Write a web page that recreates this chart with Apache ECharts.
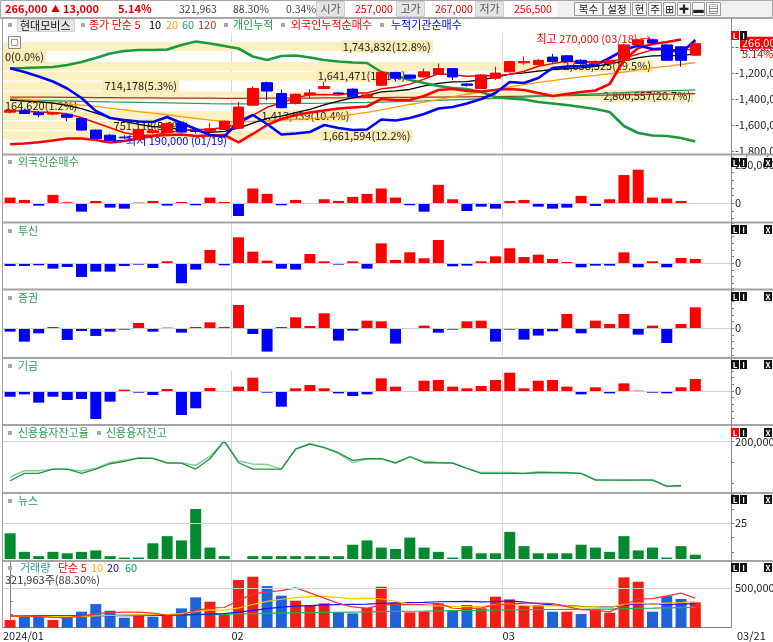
<!DOCTYPE html>
<html><head><meta charset="utf-8">
<script src="https://cdn.jsdelivr.net/npm/echarts@6.0.0/dist/echarts.min.js"></script>
<style>html,body{margin:0;padding:0;background:#fff;}#c{width:773px;height:642px;}</style>
</head><body><div id="c"></div>
<script>
// ---------------- DATA ----------------
const dates = ['01/10','01/11','01/12','01/15','01/16','01/17','01/18','01/19','01/22','01/23','01/24','01/25','01/26','01/29','01/30','01/31',
 '02/01','02/02','02/05','02/06','02/07','02/08','02/13','02/14','02/15','02/16','02/19','02/20','02/21','02/22','02/23','02/26','02/27','02/28','02/29',
 '03/04','03/05','03/06','03/07','03/08','03/11','03/12','03/13','03/14','03/15','03/18','03/19','03/20','03/21'];
const monthTicks = ['2024/01','02','03'];

const openP  = [212500,214000,212000,211000,210500,207500,198500,194500,193000,191000,196500,196500,204000,198000,197500,199000,200000,218000,235500,227000,219500,226000,231000,227500,230500,224500,233500,243500,241500,240000,242000,246500,234500,231000,239000,244000,251000,249500,255500,256500,253000,250500,250500,253000,265000,269000,265000,263500,257000];
const highP  = [215000,214500,213500,212500,211500,208000,199000,195500,194500,200000,199500,204500,205000,199000,204000,206000,220500,232500,236500,230000,227000,230500,236000,228000,231000,227000,244500,244000,242000,246500,250500,247000,235000,242000,248000,252500,256000,254000,258000,257000,254000,253000,253500,266000,269500,270000,265500,264000,267000];
const lowP   = [211500,211000,208500,210000,205500,198000,191500,190000,191500,190500,195500,196000,196500,196000,196500,198500,199500,217500,222000,215500,218500,223000,230500,226500,224000,224000,233000,236500,238500,239500,241500,237500,232500,230500,237500,243500,249500,249000,250500,251500,249500,250000,250000,252500,264500,265500,252500,248000,256500];
const closeP = [214000,211500,210500,212000,208500,198500,192000,190500,192500,199000,198000,203500,197000,197500,199500,205500,216500,231000,229000,216000,226500,227500,232500,227000,224500,226000,243500,239000,239000,244000,246500,240000,233500,241500,243000,252000,252000,253000,252000,252000,250500,252000,253000,265000,269000,266500,253000,253000,266000];

const ma5   = [213800,213200,212700,212300,211300,208200,204300,200300,196400,194500,194400,196700,198000,199000,199100,200600,203200,210000,216300,219600,223800,226000,226300,225900,227600,227500,230700,232000,234400,238300,242400,241700,240600,241100,240900,242000,244400,248300,250400,252200,251900,251900,251900,254500,257900,261100,261300,261300,261500];
const ma10  = [222000,221200,220500,219500,217800,215200,211800,208200,205300,202900,201300,200500,199200,197700,196800,197500,200000,204000,207700,209400,212200,214600,218200,221100,223600,225700,228400,229200,230200,233000,235000,236200,236300,237800,239600,242200,243100,244500,245800,246600,247000,248200,250100,252500,255100,256500,256600,256600,258000];
const ma20  = [223300,222300,221200,220000,219000,218000,217000,215600,214300,213000,211800,210500,209000,207600,206300,205300,204800,205300,205800,206300,206800,207400,208200,209300,210700,212300,214300,216500,218500,220300,222300,224500,226500,228300,230200,232200,234000,235700,237200,238700,240100,241300,242500,243800,245500,247000,248300,249700,251200];
const ma60  = [222000,221800,221600,221400,221200,221000,220800,220500,220300,220100,219900,219700,219500,219300,219100,219000,218900,219000,219100,219200,219300,219400,219500,219700,219900,220100,220400,220700,221000,221300,221700,222100,222500,222900,223300,223800,224300,224800,225300,225800,226300,226800,227300,227800,228300,228700,229100,229500,229900];
const ma120 = [224300,224300,224200,224200,224100,224000,223900,223800,223700,223700,223600,223500,223500,223400,223400,223300,223300,223300,223400,223400,223500,223500,223600,223600,223700,223800,223900,224000,224100,224200,224300,224400,224500,224600,224700,224900,225000,225200,225300,225500,225600,225800,225900,226100,226300,226500,226600,226700,226900];

const cumIndiv   = [-1163900,-1161600,-1157700,-1153900,-1138500,-1115400,-1084600,-1050000,-1030800,-1023100,-1023100,-1019300,-984600,-957700,-973100,-992300,-1011600,-1073100,-1100000,-1069300,-1065400,-1080800,-1100000,-1111600,-1119300,-1123100,-1192300,-1219300,-1253900,-1276900,-1300000,-1315400,-1323100,-1346200,-1384600,-1396200,-1403900,-1423100,-1434600,-1446200,-1461600,-1476900,-1500000,-1607700,-1661500,-1680800,-1684600,-1700000,-1726900];
const cumForeign = [-1748500,-1742300,-1733100,-1719200,-1703900,-1703900,-1715400,-1734600,-1723100,-1703900,-1684600,-1676900,-1673100,-1684600,-1680800,-1676900,-1733100,-1669200,-1600000,-1553900,-1523100,-1503900,-1488500,-1473100,-1465400,-1457700,-1400000,-1407700,-1407700,-1376900,-1330800,-1323100,-1338500,-1342300,-1330800,-1323100,-1330800,-1353900,-1376900,-1361600,-1346200,-1334600,-1284600,-1100000,-1007700,-977000,-961600,-942300,null];
const cumInst    = [-1163900,-1192300,-1226900,-1265400,-1319300,-1392300,-1492300,-1546200,-1561500,-1573100,-1576900,-1538500,-1584600,-1630800,-1676900,-1688500,-1576900,-1523100,-1592300,-1673100,-1665400,-1653900,-1600000,-1623100,-1638500,-1634600,-1557700,-1565400,-1546200,-1515400,-1473100,-1461600,-1434600,-1400000,-1353900,-1269300,-1276900,-1238500,-1161600,-1150000,-1146200,-1138500,-1084600,-1023100,-988500,-1015400,-1011600,-1048500,-946200];

const profileVol = [1743832,0,2638525,1641471,714178,2800557,164620,1413939,751118,1661594];
const profilePct = [12.8,0.0,19.5,12.1,5.3,20.7,1.2,10.4,5.6,12.2];

const foreignNet = [37000,21800,-15200,54400,6500,-54400,15200,-28300,-34800,4400,15200,-15200,8700,-13000,37000,8700,-82700,95700,60900,-13000,21800,2200,26100,15200,41300,60900,95700,37000,-13000,-54400,119700,26100,-50000,-21800,-34800,15200,21800,-21800,-34800,-28300,47900,-17400,26100,182800,217600,37000,30500,15200,null];
const trustNet = [-4000,-4000,-3000,-8000,-5500,-20400,-12400,-12400,-4000,-2000,-7000,3000,-29800,-9400,19900,-3000,38800,17400,4000,-8000,-9400,13900,3000,-2000,3000,-8000,29800,5000,16400,7500,34800,-4500,-3500,3000,10400,22400,9400,12900,6500,2000,-6000,-3500,-3500,16400,-6000,3000,-6000,8000,6500];
const secNet = [-5000,-19900,-7500,2000,-17400,-4000,-11400,-5000,-2000,8000,-5000,1000,-6500,2000,8900,2000,34800,-8500,-34800,2000,16400,3500,22400,-18400,-3500,11400,10400,-22900,-1000,4000,-6500,-2000,10400,11400,-19900,-2000,-16900,-10900,-4500,21400,-7500,11400,6500,21400,-9400,4000,-21900,6500,31300];
const fundNet = [-8500,-5000,-17400,-8500,-13400,-11900,-41700,-15900,2000,-2500,-6000,3000,-35800,-25800,4500,-1000,6500,19900,-2500,-23400,4000,8900,4000,-3500,-7500,-5000,18900,6500,-1000,15400,16400,6500,4000,7500,16400,27300,4000,15400,16400,6500,-5000,5500,-3500,11400,500,-2500,-3500,5500,17900];

const creditBal  = [190570,192340,192340,193390,193390,192340,193390,194680,195240,196050,195970,194840,194840,193390,195890,200160,194920,193390,193390,193390,198230,199440,198550,197340,195490,195890,195890,194840,196370,194920,194920,194840,193550,192340,192340,192340,192340,192500,192500,192500,192340,190730,190730,190730,190730,190730,189280,189360,null];
const creditRate = [0.2045,0.2062,0.2062,0.2066,0.2066,0.2061,0.2068,0.2083,0.2089,0.2095,0.2094,0.2083,0.2082,0.2076,0.2099,0.2138,0.2087,0.2079,0.2078,0.2066,0.2118,0.2132,0.2122,0.2107,0.2083,0.2093,0.2093,0.2083,0.2098,0.2086,0.2083,0.2082,0.2068,0.2057,0.2057,0.2057,0.2055,0.2059,0.2058,0.2057,0.2055,0.2039,0.2038,0.2038,0.2038,0.2039,0.2021,0.2023,null];

const news = [18,5,2,5,4,5,6,2,1,1,11,16,13,35,8,2,0,2,2,2,2,2,2,2,10,13,8,7,15,8,5,1,9,4,4,19,9,4,4,4,10,8,5,16,6,8,1,9,3];

const volume = [97300,148000,148000,97300,139600,203000,300300,215700,126900,148000,139600,160700,245300,384900,330000,160700,604900,647200,528800,406100,342600,287600,308800,194600,181900,253800,520300,317300,194600,203000,308800,211500,287600,245300,393400,359600,279200,287600,203000,203000,173400,232700,190400,638700,583700,203000,401900,364624,321963];
const volDir = [1,-1,-1,1,-1,-1,-1,-1,-1,1,-1,1,-1,-1,1,1,1,1,-1,-1,1,1,1,-1,-1,1,1,-1,1,1,1,-1,-1,1,1,1,1,1,-1,1,-1,1,1,1,1,-1,-1,-1,1];
const volMa5  = [148000,150000,140000,130000,126000,147200,177600,191200,197100,198800,186100,158200,164100,215700,252100,256300,345200,425500,454300,469500,505900,442500,374800,307900,263100,245300,291900,293600,293600,297800,308800,247000,241100,251200,289300,299500,313000,313000,304600,266500,229200,219900,200500,287600,363800,369700,403500,438400,375000];
const volMa10 = [145000,143000,142000,140000,140000,142000,150000,155000,158000,162400,166600,167900,177600,206400,225400,221200,251700,294800,335000,360800,381100,393800,400200,381100,366300,375600,367200,334200,300800,280500,277100,269500,267300,272400,293600,304100,280000,277100,277900,277900,264400,266500,256800,296100,315100,299500,311700,319400,331300];
const volMa20 = [145000,145000,146000,146000,147000,148000,150000,152000,153000,154000,155000,157000,160000,165000,172000,178000,198000,220000,242000,261600,273900,280900,288900,293800,295900,298400,309400,314500,317900,320600,329100,331600,333800,326800,329900,339900,323600,305600,289300,279200,270700,268000,262100,284300,304300,301800,295900,298300,304600];
const volMa60 = [150000,151000,152000,153000,154000,155000,156000,158000,159000,160000,161000,162000,164000,166000,168000,170000,174000,178000,182000,185000,188000,191000,194000,196000,198000,200000,204000,207000,209000,211000,214000,216000,218000,220000,223000,226000,228000,230000,231000,232000,233000,235000,236000,241000,246000,248000,251000,254000,257000];

const turnoverPct = 0.34;

// ---------------- BUILD ----------------
const FONT = "'Noto Sans CJK KR','Noto Sans',sans-serif";
const fmt = v => Math.round(v).toLocaleString('en-US');
const last = dates.length - 1;
const cats = dates.concat(['', '']);
const monthStarts = dates.map((d, i) => (i === 0 || d.slice(0, 2) !== dates[i - 1].slice(0, 2)) ? i : -1).filter(i => i >= 0);
const splitFn = i => i > 0 && monthStarts.indexOf(i) >= 0;

const UP = '#FF0000', DN = '#0000FF';
const L = 3, R = 42;
const grids = [
  {top: 33, height: 118},      // 0 main
  {top: 41.6, height: 98.8},   // 1 profile
  {top: 157, height: 61.7},    // 2 foreign
  {top: 223.1, height: 67},    // 3 trust
  {top: 288.1, height: 67},    // 4 securities
  {top: 370.9, height: 53.6},  // 5 fund
  {top: 426, height: 66},      // 6 credit
  {top: 494, height: 65},      // 7 news
  {top: 562, height: 65.7}     // 8 volume
].map(g => Object.assign({left: L, right: R, containLabel: false, outerBoundsMode: 'none', show: false}, g));

const catAxis = g => ({type: 'category', gridIndex: g, data: cats, boundaryGap: true,
  axisLine: {show: false}, axisTick: {show: false}, axisLabel: {show: false},
  splitLine: {show: true, interval: splitFn, lineStyle: {color: '#D6D6D6', width: 1}}});

const xAxes = [
  catAxis(0),
  {type: 'value', gridIndex: 1, min: 0, max: 2954800, show: false},
  catAxis(2), catAxis(3), catAxis(4), catAxis(5), catAxis(6), catAxis(7), catAxis(8),
  {type: 'value', gridIndex: 8, position: 'bottom', min: -0.5, max: cats.length - 0.5,
    axisLine: {show: true, lineStyle: {color: '#7F7F7F'}}, axisTick: {show: false}, splitLine: {show: false},
    axisLabel: {show: true, customValues: monthStarts.map(i => i - 0.5).concat([cats.length - 0.5]),
      align: 'left', margin: 3, color: '#222', fontSize: 11, fontFamily: FONT,
      formatter: v => { const k = monthStarts.indexOf(v + 0.5); return k >= 0 ? monthTicks[k] : '{e|' + dates[last] + '}'; },
      rich: {e: {padding: [0, 0, 0, 6], fontSize: 11, color: '#222', fontFamily: FONT}}}}
];

function ya(g, min, max, ex) {
  ex = ex || {};
  const a = {type: 'value', gridIndex: g, position: 'right', min: min, max: max, scale: false,
    axisLine: {show: true, lineStyle: {color: '#808080'}},
    axisTick: {show: true, length: 3, lineStyle: {color: '#808080'}},
    splitLine: {show: false},
    axisLabel: {color: '#222', fontSize: 11, margin: 4, fontFamily: FONT, formatter: v => fmt(v)}};
  if (ex.interval) a.interval = ex.interval;
  if (ex.ticks) a.axisTick.customValues = ex.ticks;
  if (ex.labels) a.axisLabel.customValues = ex.labels;
  if (ex.hideMax) a.axisLabel.showMaxLabel = false;
  return a;
}
const volStep = 500000 / 3;
const yAxes = [
  {type: 'value', gridIndex: 0, min: 182195, max: 274293, show: false},                 // 0 price
  ya(0, -1800000, -892308, {interval: 200000, hideMax: true}),                              // 1 cumulative
  {type: 'category', gridIndex: 1, data: profileVol.map((v, i) => 'B' + i), inverse: true, show: false}, // 2 profile
  ya(2, -100000, 300000, {interval: 50000, labels: [0, 250000]}),                           // 3 foreign
  ya(3, -40000, 60000, {interval: 10000, labels: [0]}),                                     // 4 trust
  ya(4, -40000, 60000, {interval: 10000, labels: [0]}),                                     // 5 securities
  ya(5, -50000, 30000, {interval: 10000, labels: [0]}),                                     // 6 fund
  ya(6, 187850, 203800, {ticks: [190000, 195000, 200000], labels: [200000]}),               // 7 credit balance
  {type: 'value', gridIndex: 6, min: 187850 / 936000, max: 203800 / 936000, show: false},  // 8 credit rate
  ya(7, 0, 45.5, {ticks: [5, 15, 25, 35, 45], labels: [25]}),                               // 9 news
  ya(8, 0, 833700, {ticks: [0, volStep, 2 * volStep, 3 * volStep, 4 * volStep], labels: [500000]}) // 10 volume
];

const gl = vals => ({silent: true, symbol: ['none', 'none'], label: {show: false}, animation: false,
  lineStyle: {color: '#D2D2D2', type: 'solid', width: 1}, emphasis: {disabled: true},
  data: vals.map(v => ({yAxis: v}))});

const lineS = (name, data, xi, yi, color, w, z) => ({type: 'line', name: name, data: data, xAxisIndex: xi, yAxisIndex: yi,
  symbol: 'none', showSymbol: false, connectNulls: false, silent: true, z: z || 3,
  lineStyle: {color: color, width: w}, itemStyle: {color: color}});

const netBars = (data, xi, yi) => ({type: 'bar', xAxisIndex: xi, yAxisIndex: yi, barWidth: 11, silent: true,
  data: data.map(v => v == null ? '-' : {value: v, itemStyle: {color: v >= 0 ? UP : DN}}), markLine: gl([0])});

let hiIdx = 0, loIdx = 0;
highP.forEach((v, i) => { if (v > highP[hiIdx]) hiIdx = i; });
lowP.forEach((v, i) => { if (v < lowP[loIdx]) loIdx = i; });
const chg = closeP[last] - closeP[last - 1];
const pct = (chg / closeP[last - 1] * 100).toFixed(2);
const volRatio = (volume[last] / volume[last - 1] * 100).toFixed(2);
const profMax = Math.max.apply(null, profileVol);

const series = [
  {type: 'bar', name: '매물대', xAxisIndex: 1, yAxisIndex: 2, silent: true, z: 1, barCategoryGap: '12%',
    itemStyle: {color: '#FAF0C2'},
    data: profileVol.map(v => ({value: v, label: {position: v / profMax < 0.15 ? 'insideLeft' : 'insideRight'}})),
    label: {show: true, distance: 0, color: '#222', fontSize: 11, fontFamily: FONT, backgroundColor: '#F8ECB4', padding: [1, 2, 0, 2],
      formatter: p => fmt(profileVol[p.dataIndex]) + '(' + profilePct[p.dataIndex].toFixed(1) + '%)'}},
  lineS('120', ma120, 0, 0, '#A0382A', 1.3),
  lineS('60', ma60, 0, 0, '#2E9A6A', 1.3),
  lineS('20', ma20, 0, 0, '#FF9A00', 1.3),
  lineS('10', ma10, 0, 0, '#000000', 1.3),
  lineS('5', ma5, 0, 0, '#FF0000', 1.5),
  lineS('개인누적', cumIndiv, 0, 1, '#1A9A3A', 2.6),
  lineS('외국인누적순매수', cumForeign, 0, 1, '#FF0000', 2.6),
  lineS('누적기관순매수', cumInst, 0, 1, '#0000FF', 2.6),
  {type: 'candlestick', name: '현대모비스', xAxisIndex: 0, yAxisIndex: 0, barWidth: 11, silent: true, z: 5,
    data: dates.map((d, i) => [openP[i], closeP[i], lowP[i], highP[i]]),
    itemStyle: {color: UP, color0: DN, borderColor: UP, borderColor0: DN, borderWidth: 1},
    markPoint: {silent: true, animation: false, symbol: 'circle', symbolSize: 1, itemStyle: {color: 'rgba(0,0,0,0)'},
      data: [
        {coord: [hiIdx, highP[hiIdx]], label: {show: true, position: 'left', distance: 1, color: '#FF0000', fontSize: 11, fontFamily: FONT,
          formatter: '최고 ' + fmt(highP[hiIdx]) + ' (' + dates[hiIdx] + ') →'}},
        {coord: [loIdx, lowP[loIdx]], label: {show: true, position: 'right', distance: 2, color: '#0000FF', fontSize: 11, fontFamily: FONT,
          formatter: '← 최저 ' + fmt(lowP[loIdx]) + ' (' + dates[loIdx] + ')'}}
      ]},
    markLine: {silent: true, animation: false, symbol: ['none', 'none'], lineStyle: {width: 0, color: 'rgba(255,0,0,0)'},
      data: [{yAxis: closeP[last]}],
      label: {show: true, position: 'end', distance: 9, padding: [9, 0, 0, 0], fontFamily: FONT,
        formatter: '{a|' + fmt(closeP[last]) + '}\n{b|' + pct + '%}',
        rich: {a: {backgroundColor: '#FF0000', color: '#FFFFFF', fontSize: 11, lineHeight: 11, padding: [1, 2, 0, 2], fontFamily: FONT},
               b: {color: '#FF0000', fontSize: 11, lineHeight: 11, padding: [0, 0, 0, 2], fontFamily: FONT}}}}},
  netBars(foreignNet, 2, 3),
  netBars(trustNet, 3, 4),
  netBars(secNet, 4, 5),
  netBars(fundNet, 5, 6),
  lineS('신용융자잔고율', creditRate, 6, 8, '#86D096', 1.5),
  Object.assign(lineS('신용융자잔고', creditBal, 6, 7, '#1E9440', 1.3), {markLine: gl([200000])}),
  {type: 'bar', name: '뉴스', xAxisIndex: 7, yAxisIndex: 9, barWidth: 11, silent: true, data: news,
    itemStyle: {color: '#038A2E'}, markLine: gl([25])},
  {type: 'bar', name: '거래량', xAxisIndex: 8, yAxisIndex: 10, barWidth: 11, silent: true, z: 2,
    data: volume.map((v, i) => ({value: v, itemStyle: {color: volDir[i] > 0 ? '#F01E14' : '#1E64D8'}})), markLine: gl([500000])},
  lineS('v60', volMa60, 8, 10, '#22B04A', 1.2),
  lineS('v20', volMa20, 8, 10, '#1515FF', 1.2),
  lineS('v10', volMa10, 8, 10, '#FFC400', 1.2),
  lineS('v5', volMa5, 8, 10, '#FF3030', 1.2)
];

// ---------------- GRAPHICS (chrome / texts) ----------------
const G = [];
const T = (x, y, text, fill, size, weight, align) => G.push({type: 'text', x: x, y: y, silent: true, z: 100,
  style: {text: text, fill: fill, font: (weight || 'normal') + ' ' + (size || 11) + 'px ' + FONT, align: align || 'left', verticalAlign: 'middle'}});
const Rc = (x, y, w, h, fill, stroke) => G.push({type: 'rect', silent: true, z: 99, shape: {x: x, y: y, width: w, height: h},
  style: {fill: fill, stroke: stroke || null, lineWidth: 1}});
const Ln = (x1, y1, x2, y2, stroke, w) => G.push({type: 'line', silent: true, z: 98, shape: {x1: x1, y1: y1, x2: x2, y2: y2},
  style: {stroke: stroke, lineWidth: w || 1}});

// header
Rc(0.5, 0.5, 772, 17, '#FFFFFF', '#A8A8A8');
Rc(557, 1, 215, 16, '#F1F1F1', null);
const RED = '#E00000';
T(5, 9, fmt(closeP[last]), RED, 11, 'bold');
T(51, 9, '▲', RED, 9);
T(63, 9, fmt(chg), RED, 11, 'bold');
T(118, 9, pct + '%', RED, 11, 'bold');
T(179, 9, fmt(volume[last]), '#444', 10.5);
T(233, 9, volRatio + '%', '#444', 10.5);
T(286, 9, turnoverPct.toFixed(2) + '%', '#444', 10.5);
const hbox = (x, t) => { Rc(x + 0.5, 1.5, 28, 15, '#E4E4E4', '#CFCFCF'); T(x + 14.5, 9, t, '#555', 11, 'normal', 'center'); };
hbox(316, '시가'); T(355, 9, fmt(openP[last]), RED, 10.5);
hbox(396, '고가'); T(435, 9, fmt(highP[last]), RED, 10.5);
hbox(475, '저가'); T(514, 9, fmt(lowP[last]), RED, 10.5);
const btn = (x, w, t) => { Rc(x + 0.5, 2.5, w, 13, '#F7F7F7', '#9C9C9C'); if (t) T(x + 0.5 + w / 2, 9, t, '#222', 10.5, 'normal', 'center'); };
btn(574, 28, '복수'); btn(603, 27, '설정'); btn(632, 14, '현'); btn(648, 13, '주');
btn(663, 12, '⊞'); btn(677, 13, '✚'); btn(692, 12, '▬'); btn(706, 14, '▤');
Ln(0, 18.5, 773, 18.5, '#A8A8A8');

// legend row
const sq = (x, y) => Rc(x, y - 2, 4, 4, '#A8A8A8', null);
sq(8, 25); Rc(17.5, 19.5, 57, 12, '#E6E6E6', '#D0D0D0'); T(20, 25.5, '현대모비스', '#111');
sq(81, 25); T(89, 25, '종가 단순 5', '#FF0000'); T(149, 25, '10', '#000'); T(166, 25, '20', '#FF9A00'); T(182, 25, '60', '#2E9A6A'); T(198, 25, '120', '#A0382A');
sq(224, 25); T(233, 25, '개인누적', '#1A9A3A');
sq(281, 25); T(291, 25, '외국인누적순매수', '#FF0000');
sq(380, 25); T(391, 25, '누적기관순매수', '#0000FF');

// checkbox
Rc(8.5, 36.5, 12, 12, '#F4F4F4', '#8A8A8A'); Rc(11.5, 39.5, 6, 6, '#FFFFFF', '#9A9A9A');

// separators / borders
[154.5, 222.5, 289.5, 358, 425, 493, 561].forEach(y => Ln(2, y, 773, y, '#A4A4A4', 2));
Ln(2.5, 18, 2.5, 628, '#A0A0A0');
Ln(731.5, 18, 731.5, 628, '#8A8A8A');

// panel titles
const TG = '#2E9E4E';
const title = (y, parts) => { sq(8, y); parts.forEach(p => T(p[0], y, p[1], p[2] || TG)); };
title(162, [[18, '외국인순매수']]);
title(231, [[18, '투신']]);
title(298, [[18, '증권']]);
title(366, [[18, '기금']]);
title(433, [[18, '신용융자잔고율']]); sq(97, 433); T(106, 433, '신용융자잔고', TG);
title(501, [[18, '뉴스']]);
title(568, [[20, '거래량', '#2A9D9D'], [58, '단순 5', '#FF0000'], [91, '10', '#FFB400'], [107, '20', '#0000FF'], [125, '60', '#00A050']]);
T(5, 580, fmt(volume[last]) + '주(' + volRatio + '%)', '#333');

// L I / X icons
const icon = (y, redL, withX) => {
  Rc(731, y, 8, 9, redL ? '#FF0000' : '#111', null); T(735, y + 4.5, 'L', '#fff', 8, 'bold', 'center');
  Rc(740, y, 7, 9, '#111', null); T(743.5, y + 4.5, 'I', '#fff', 8, 'bold', 'center');
  if (withX) { Rc(764, y, 8, 9, '#111', null); T(768, y + 4.5, 'X', '#fff', 8, 'bold', 'center'); }
};
icon(31, true, false);
icon(158, false, true); icon(225, false, true); icon(292, false, true); icon(360, false, true);
icon(428, true, true); icon(495, false, true); icon(563, false, true);

const chart = echarts.init(document.getElementById('c'), null, {renderer: 'canvas', width: 773, height: 642});
chart.setOption({
  animation: false,
  backgroundColor: '#FFFFFF',
  textStyle: {fontFamily: FONT},
  grid: grids,
  xAxis: xAxes,
  yAxis: yAxes,
  series: series,
  graphic: {elements: G}
});
</script></body></html>
